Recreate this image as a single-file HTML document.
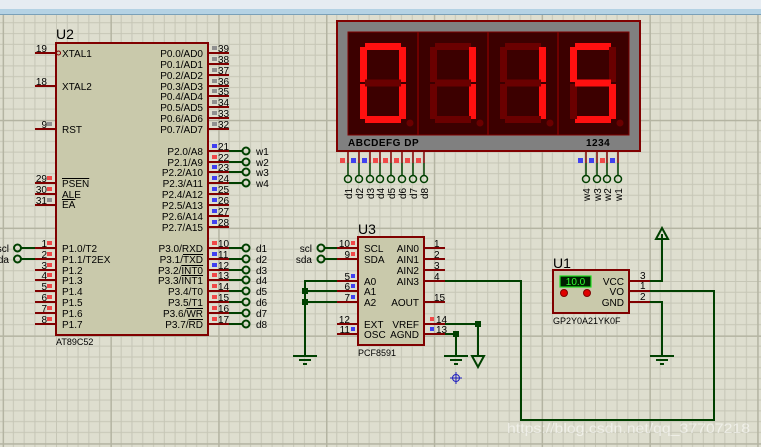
<!DOCTYPE html>
<html><head><meta charset="utf-8"><style>
html,body{margin:0;padding:0;width:761px;height:447px;overflow:hidden;background:#dedecf}
svg{display:block}
text{font-family:"Liberation Sans",sans-serif;font-size:10px;fill:#000}
.pl{stroke:#800000;stroke-width:2}
.w{stroke:#004000;stroke-width:2;fill:none}
.t{stroke:#004000;stroke-width:2;fill:none}
.on{fill:#ff1010}.off{fill:#6a0000}
.r{fill:#f04848}.b{fill:#4040f0}.g{fill:#909090}
.ov{text-decoration:overline}
</style></head><body>
<svg width="761" height="447" viewBox="0 0 761 447" xmlns="http://www.w3.org/2000/svg">
<defs>
<pattern id="gr" x="2.6" y="12" width="107.8" height="107.8" patternUnits="userSpaceOnUse">
<rect width="107.8" height="107.8" fill="#dedecf"/>
<g stroke="#c6c6b6" stroke-width="1">
<path d="M10.78 0V108M21.56 0V108M32.34 0V108M43.12 0V108M53.9 0V108M64.68 0V108M75.46 0V108M86.24 0V108M97.02 0V108"/>
<path d="M0 10.78H108M0 21.56H108M0 32.34H108M0 43.12H108M0 53.9H108M0 64.68H108M0 75.46H108M0 86.24H108M0 97.02H108"/>
</g>
<path d="M0.5 0V108M0 0.5H108" stroke="#b4b4a2" stroke-width="2"/>
</pattern>
</defs>
<rect width="761" height="447" fill="url(#gr)"/>
<rect width="761" height="9" fill="#e6ecf2"/>
<rect y="9" width="761" height="6" fill="#b4d2e4"/>
<rect y="14" width="761" height="1" fill="#7aa0b8"/>

<!-- U2 -->
<text x="56" y="39" style="font-size:14px">U2</text>
<g class="pl">
<path d="M35 53H56M35 86H56M35 129H56M35 183H56M35 194H56M35 205H56"/>
<path d="M35 248H56M35 259H56M35 270H56M35 280H56M35 291H56M35 302H56M35 313H56M35 324H56"/>
<path d="M208 53H229M208 64H229M208 75H229M208 86H229M208 96H229M208 107H229M208 118H229M208 129H229"/>
<path d="M208 151H229M208 162H229M208 172H229M208 183H229M208 194H229M208 205H229M208 216H229M208 227H229"/>
<path d="M208 248H229M208 259H229M208 270H229M208 280H229M208 291H229M208 302H229M208 313H229M208 324H229"/>
</g>
<rect x="56" y="43" width="152" height="292" fill="#c9c9ab" stroke="#800000" stroke-width="2"/>
<circle cx="58.5" cy="53" r="2" fill="none" stroke="#800000" stroke-width="1"/>
<g>
<rect x="47" y="122" width="5" height="4" class="g"/>
<rect x="47" y="176" width="5" height="4" class="r"/><rect x="47" y="187" width="5" height="4" class="r"/><rect x="47" y="198" width="5" height="4" class="g"/>
<rect x="47" y="241" width="5" height="4" class="r"/><rect x="47" y="252" width="5" height="4" class="r"/><rect x="47" y="263" width="5" height="4" class="r"/><rect x="47" y="273" width="5" height="4" class="r"/><rect x="47" y="284" width="5" height="4" class="r"/><rect x="47" y="295" width="5" height="4" class="r"/><rect x="47" y="306" width="5" height="4" class="r"/><rect x="47" y="317" width="5" height="4" class="r"/>
<rect x="212" y="46" width="5" height="4" class="g"/><rect x="212" y="57" width="5" height="4" class="g"/><rect x="212" y="68" width="5" height="4" class="g"/><rect x="212" y="79" width="5" height="4" class="g"/><rect x="212" y="89" width="5" height="4" class="g"/><rect x="212" y="100" width="5" height="4" class="g"/><rect x="212" y="111" width="5" height="4" class="g"/><rect x="212" y="122" width="5" height="4" class="g"/>
<rect x="212" y="144" width="5" height="4" class="b"/><rect x="212" y="155" width="5" height="4" class="r"/><rect x="212" y="165" width="5" height="4" class="b"/><rect x="212" y="176" width="5" height="4" class="b"/><rect x="212" y="187" width="5" height="4" class="b"/><rect x="212" y="198" width="5" height="4" class="b"/><rect x="212" y="209" width="5" height="4" class="b"/><rect x="212" y="220" width="5" height="4" class="b"/>
<rect x="212" y="241" width="5" height="4" class="r"/><rect x="212" y="252" width="5" height="4" class="b"/><rect x="212" y="263" width="5" height="4" class="b"/><rect x="212" y="273" width="5" height="4" class="r"/><rect x="212" y="284" width="5" height="4" class="r"/><rect x="212" y="295" width="5" height="4" class="r"/><rect x="212" y="306" width="5" height="4" class="r"/><rect x="212" y="317" width="5" height="4" class="r"/>
</g>
<g text-anchor="end">
<text x="47" y="52">19</text><text x="47" y="85">18</text><text x="47" y="128">9</text>
<text x="47" y="182">29</text><text x="47" y="193">30</text><text x="47" y="204">31</text>
<text x="47" y="247">1</text><text x="47" y="258">2</text><text x="47" y="269">3</text><text x="47" y="279">4</text><text x="47" y="290">5</text><text x="47" y="301">6</text><text x="47" y="312">7</text><text x="47" y="323">8</text>
</g>
<g>
<text x="218" y="52">39</text><text x="218" y="63">38</text><text x="218" y="74">37</text><text x="218" y="85">36</text><text x="218" y="95">35</text><text x="218" y="106">34</text><text x="218" y="117">33</text><text x="218" y="128">32</text>
<text x="218" y="150">21</text><text x="218" y="161">22</text><text x="218" y="171">23</text><text x="218" y="182">24</text><text x="218" y="193">25</text><text x="218" y="204">26</text><text x="218" y="215">27</text><text x="218" y="226">28</text>
<text x="218" y="247">10</text><text x="218" y="258">11</text><text x="218" y="269">12</text><text x="218" y="279">13</text><text x="218" y="290">14</text><text x="218" y="301">15</text><text x="218" y="312">16</text><text x="218" y="323">17</text>
</g>
<g>
<text x="62" y="57">XTAL1</text><text x="62" y="90">XTAL2</text><text x="62" y="133">RST</text>
<text x="62" y="187" class="ov">PSEN</text><text x="62" y="198">ALE</text><text x="62" y="208" class="ov">EA</text>
<text x="62" y="252">P1.0/T2</text><text x="62" y="263">P1.1/T2EX</text><text x="62" y="274">P1.2</text><text x="62" y="284">P1.3</text><text x="62" y="295">P1.4</text><text x="62" y="306">P1.5</text><text x="62" y="317">P1.6</text><text x="62" y="328">P1.7</text>
</g>
<g text-anchor="end">
<text x="203" y="57">P0.0/AD0</text><text x="203" y="68">P0.1/AD1</text><text x="203" y="79">P0.2/AD2</text><text x="203" y="90">P0.3/AD3</text><text x="203" y="100">P0.4/AD4</text><text x="203" y="111">P0.5/AD5</text><text x="203" y="122">P0.6/AD6</text><text x="203" y="133">P0.7/AD7</text>
<text x="203" y="155">P2.0/A8</text><text x="203" y="166">P2.1/A9</text><text x="203" y="176">P2.2/A10</text><text x="203" y="187">P2.3/A11</text><text x="203" y="198">P2.4/A12</text><text x="203" y="209">P2.5/A13</text><text x="203" y="220">P2.6/A14</text><text x="203" y="231">P2.7/A15</text>
<text x="203" y="252">P3.0/RXD</text><text x="203" y="263">P3.1/<tspan class="ov">TXD</tspan></text><text x="203" y="274">P3.2/<tspan class="ov">INT0</tspan></text><text x="203" y="284">P3.3/<tspan class="ov">INT1</tspan></text><text x="203" y="295">P3.4/T0</text><text x="203" y="306">P3.5/T1</text><text x="203" y="317">P3.6/<tspan class="ov">WR</tspan></text><text x="203" y="328">P3.7/<tspan class="ov">RD</tspan></text>
</g>
<text x="56" y="345" style="font-size:9px">AT89C52</text>
<path class="w" d="M229 151H243M229 162H243M229 172H243M229 183H243M229 248H243M229 259H243M229 270H243M229 280H243M229 291H243M229 302H243M229 313H243M229 324H243M21 248H35M21 259H35"/>
<g class="t">
<circle cx="246" cy="151" r="3.5"/><circle cx="246" cy="162" r="3.5"/><circle cx="246" cy="172" r="3.5"/><circle cx="246" cy="183" r="3.5"/>
<circle cx="246" cy="248" r="3.5"/><circle cx="246" cy="259" r="3.5"/><circle cx="246" cy="270" r="3.5"/><circle cx="246" cy="280" r="3.5"/><circle cx="246" cy="291" r="3.5"/><circle cx="246" cy="302" r="3.5"/><circle cx="246" cy="313" r="3.5"/><circle cx="246" cy="324" r="3.5"/>
<circle cx="17.5" cy="248" r="3.5"/><circle cx="17.5" cy="259" r="3.5"/>
</g>
<g>
<text x="256" y="155">w1</text><text x="256" y="166">w2</text><text x="256" y="176">w3</text><text x="256" y="187">w4</text>
<text x="256" y="252">d1</text><text x="256" y="263">d2</text><text x="256" y="274">d3</text><text x="256" y="284">d4</text><text x="256" y="295">d5</text><text x="256" y="306">d6</text><text x="256" y="317">d7</text><text x="256" y="328">d8</text>
<text x="9" y="252" text-anchor="end">scl</text><text x="9" y="263" text-anchor="end">sda</text>
</g>

<!-- Display -->
<rect x="337" y="21" width="303" height="130" fill="#808080" stroke="#800000" stroke-width="2"/>
<rect x="348" y="32" width="281" height="103" fill="#3c0000" stroke="#800000" stroke-width="1"/>
<path d="M418 32V135M488 32V135M558 32V135" stroke="#800000" stroke-width="1.5"/>
<g transform="translate(360,43)">
<rect x="5" y="0" width="36" height="7" class="on"/><rect x="39" y="4" width="7" height="35" class="on"/><rect x="39" y="41" width="7" height="35" class="on"/><rect x="5" y="73" width="36" height="7" class="on"/><rect x="0" y="41" width="7" height="35" class="on"/><rect x="0" y="4" width="7" height="35" class="on"/><rect x="5" y="36.5" width="36" height="7" class="off"/><circle cx="50" cy="80" r="3.5" class="off"/>
</g>
<g transform="translate(430,43)">
<rect x="5" y="0" width="36" height="7" class="off"/><rect x="39" y="4" width="7" height="35" class="on"/><rect x="39" y="41" width="7" height="35" class="on"/><rect x="5" y="73" width="36" height="7" class="off"/><rect x="0" y="41" width="7" height="35" class="off"/><rect x="0" y="4" width="7" height="35" class="off"/><rect x="5" y="36.5" width="36" height="7" class="off"/><circle cx="50" cy="80" r="3.5" class="off"/>
</g>
<g transform="translate(500,43)">
<rect x="5" y="0" width="36" height="7" class="off"/><rect x="39" y="4" width="7" height="35" class="on"/><rect x="39" y="41" width="7" height="35" class="on"/><rect x="5" y="73" width="36" height="7" class="off"/><rect x="0" y="41" width="7" height="35" class="off"/><rect x="0" y="4" width="7" height="35" class="off"/><rect x="5" y="36.5" width="36" height="7" class="off"/><circle cx="50" cy="80" r="3.5" class="off"/>
</g>
<g transform="translate(570,43)">
<rect x="5" y="0" width="36" height="7" class="on"/><rect x="39" y="4" width="7" height="35" class="off"/><rect x="39" y="41" width="7" height="35" class="on"/><rect x="5" y="73" width="36" height="7" class="on"/><rect x="0" y="41" width="7" height="35" class="off"/><rect x="0" y="4" width="7" height="35" class="on"/><rect x="5" y="36.5" width="36" height="7" class="on"/><circle cx="50" cy="80" r="3.5" class="off"/>
</g>
<text x="348" y="146" style="font-size:10px;font-weight:bold;letter-spacing:0.5px">ABCDEFG DP</text>
<text x="586" y="146" style="font-size:10px;font-weight:bold;letter-spacing:0.5px">1234</text>
<g class="pl" style="stroke-width:1.5">
<path d="M348 151V163M359 151V163M370 151V163M380 151V163M391 151V163M402 151V163M413 151V163M424 151V163M586 151V163M597 151V163M607 151V163M618 151V163"/>
</g>
<path class="w" style="stroke-width:1.5" d="M348 163V175M359 163V175M370 163V175M380 163V175M391 163V175M402 163V175M413 163V175M424 163V175M586 163V175M597 163V175M607 163V175M618 163V175"/>
<rect x="340" y="158" width="5" height="5" class="r"/><rect x="351" y="158" width="5" height="5" class="b"/><rect x="362" y="158" width="5" height="5" class="b"/><rect x="373" y="158" width="5" height="5" class="r"/><rect x="383" y="158" width="5" height="5" class="r"/><rect x="394" y="158" width="5" height="5" class="r"/><rect x="405" y="158" width="5" height="5" class="r"/><rect x="416" y="158" width="5" height="5" class="r"/>
<rect x="578" y="158" width="5" height="5" class="b"/><rect x="589" y="158" width="5" height="5" class="b"/><rect x="600" y="158" width="5" height="5" class="r"/><rect x="610" y="158" width="5" height="5" class="b"/>
<g class="t" style="stroke-width:1.5">
<circle cx="348" cy="179" r="3.5"/><circle cx="359" cy="179" r="3.5"/><circle cx="370" cy="179" r="3.5"/><circle cx="380" cy="179" r="3.5"/><circle cx="391" cy="179" r="3.5"/><circle cx="402" cy="179" r="3.5"/><circle cx="413" cy="179" r="3.5"/><circle cx="424" cy="179" r="3.5"/>
<circle cx="586" cy="179" r="3.5"/><circle cx="597" cy="179" r="3.5"/><circle cx="607" cy="179" r="3.5"/><circle cx="618" cy="179" r="3.5"/>
</g>
<g style="font-size:9px">
<text transform="translate(352,199) rotate(-90)">d1</text><text transform="translate(363,199) rotate(-90)">d2</text><text transform="translate(374,199) rotate(-90)">d3</text><text transform="translate(384,199) rotate(-90)">d4</text><text transform="translate(395,199) rotate(-90)">d5</text><text transform="translate(406,199) rotate(-90)">d6</text><text transform="translate(417,199) rotate(-90)">d7</text><text transform="translate(428,199) rotate(-90)">d8</text>
<text transform="translate(590,201) rotate(-90)">w4</text><text transform="translate(601,201) rotate(-90)">w3</text><text transform="translate(611,201) rotate(-90)">w2</text><text transform="translate(622,201) rotate(-90)">w1</text>
</g>

<!-- U3 -->
<text x="358" y="234" style="font-size:14px">U3</text>
<g class="pl">
<path d="M337 248H358M337 259H358M337 281H358M337 291H358M337 302H358M337 324H358M337 334H358"/>
<path d="M424 248H445M424 259H445M424 270H445M424 281H445M424 302H445M424 324H445M424 334H445"/>
</g>
<rect x="358" y="237" width="66" height="108" fill="#c9c9ab" stroke="#800000" stroke-width="2"/>
<rect x="351" y="241" width="4" height="4" class="r"/><rect x="351" y="252" width="4" height="4" class="r"/><rect x="351" y="274" width="4" height="4" class="b"/><rect x="351" y="284" width="4" height="4" class="b"/><rect x="351" y="295" width="4" height="4" class="b"/><rect x="351" y="327" width="4" height="4" class="b"/>
<rect x="430" y="317" width="4" height="4" class="r"/><rect x="430" y="327" width="4" height="4" class="b"/>
<g text-anchor="end"><text x="350" y="247">10</text><text x="350" y="258">9</text><text x="350" y="280">5</text><text x="350" y="290">6</text><text x="350" y="301">7</text><text x="350" y="323">12</text><text x="350" y="333">11</text></g>
<g><text x="434" y="247">1</text><text x="434" y="258">2</text><text x="434" y="269">3</text><text x="434" y="280">4</text><text x="434" y="301">15</text><text x="436" y="323">14</text><text x="436" y="333">13</text></g>
<g><text x="364" y="252">SCL</text><text x="364" y="263">SDA</text><text x="364" y="285">A0</text><text x="364" y="295">A1</text><text x="364" y="306">A2</text><text x="364" y="328">EXT</text><text x="364" y="338">OSC</text></g>
<g text-anchor="end"><text x="419" y="252">AIN0</text><text x="419" y="263">AIN1</text><text x="419" y="274">AIN2</text><text x="419" y="285">AIN3</text><text x="419" y="306">AOUT</text><text x="419" y="328">VREF</text><text x="419" y="338">AGND</text></g>
<text x="358" y="356" style="font-size:9px">PCF8591</text>
<path class="w" d="M324 248H337M324 259H337"/>
<circle class="t" cx="321" cy="248" r="3.5"/><circle class="t" cx="321" cy="259" r="3.5"/>
<text x="312" y="252" text-anchor="end">scl</text><text x="312" y="263" text-anchor="end">sda</text>
<path class="w" d="M337 281H305V356M305 291H337M305 302H337"/>
<rect x="302" y="288" width="6" height="6" fill="#004000"/><rect x="302" y="299" width="6" height="6" fill="#004000"/>
<path d="M293 356H317M299 360H311M303 364H307" stroke="#004000" stroke-width="2"/>
<path class="w" d="M445 324H478V356M445 334H456V356"/>
<rect x="475" y="321" width="6" height="6" fill="#004000"/><rect x="453" y="331" width="6" height="6" fill="#004000"/>
<path d="M444 356H468M450 360H462M454 364H458" stroke="#004000" stroke-width="2"/>
<path d="M472 356H484L478 367Z" fill="none" stroke="#004000" stroke-width="2"/>
<g stroke="#2020c0" stroke-width="1" fill="none"><circle cx="456" cy="378" r="3.5"/><path d="M450 378H462M456 372V384"/></g>
<path class="w" d="M445 281H521V420H714V291H650"/>

<!-- U1 -->
<text x="553" y="268" style="font-size:14px">U1</text>
<g class="pl"><path d="M629 281H650M629 291H650M629 302H650"/></g>
<rect x="553" y="270" width="76" height="43" fill="#c9c9ab" stroke="#800000" stroke-width="2"/>
<rect x="560" y="276" width="31" height="11" fill="#002000" stroke="#20e020" stroke-width="1.2"/>
<text x="575.5" y="285" text-anchor="middle" style="fill:#30ff30;font-size:10px">10.0</text>
<circle cx="564" cy="293" r="3.5" fill="#e00000" stroke="#800000"/><circle cx="587" cy="293" r="3.5" fill="#e00000" stroke="#800000"/>
<text x="624" y="285" text-anchor="end">VCC</text><text x="624" y="295" text-anchor="end">VO</text><text x="624" y="306" text-anchor="end">GND</text>
<text x="640" y="279">3</text><text x="640" y="289">1</text><text x="640" y="300">2</text>
<text x="553" y="324" style="font-size:9px">GP2Y0A21YK0F</text>
<path class="w" d="M650 281H662V234M650 302H662V356"/>
<path d="M656 239H668L662 228Z" fill="none" stroke="#004000" stroke-width="2"/>
<path d="M650 356H674M656 360H668M660 364H664" stroke="#004000" stroke-width="2"/>

<text x="507" y="433" textLength="243" lengthAdjust="spacingAndGlyphs" style="font-size:14px;fill:#ffffff;fill-opacity:0.55">https://blog.csdn.net/qq_37707218</text>
</svg>
</body></html>
